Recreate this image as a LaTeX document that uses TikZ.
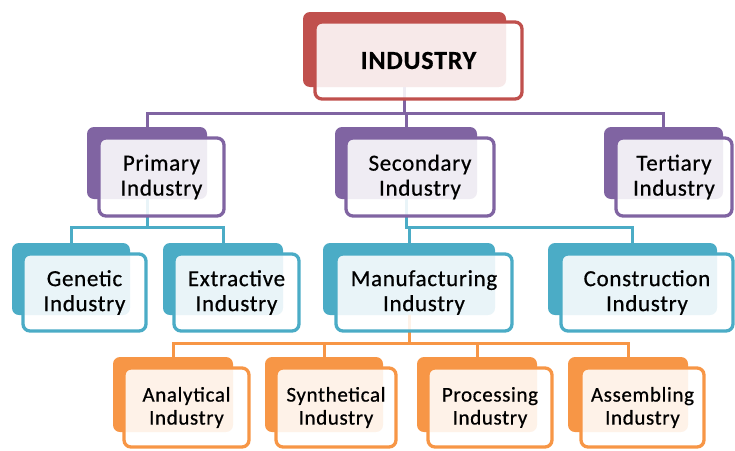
\documentclass[tikz,border=0pt]{standalone}
\usepackage{fontspec}
\setmainfont[LetterSpace=3,FakeBold=0.6]{Carlito}
\definecolor{cred}{HTML}{C0504D}
\definecolor{cpur}{HTML}{8064A2}
\definecolor{cteal}{HTML}{4BACC6}
\definecolor{corg}{HTML}{F79646}
\tikzset{
  backbox/.style={fill=#1, draw=none, rounded corners=7pt, inner sep=0pt, outer sep=0pt},
  frontbox/.style={draw=#1, line width=3.3pt, fill=white, fill opacity=0.88, text opacity=1,
    rounded corners=7pt, align=center, inner sep=0pt, text=black},
  link/.style={draw=#1, line width=3pt},
  big/.style={font=\fontsize{23}{25}\selectfont},
  small/.style={font=\fontsize{21}{23}\selectfont},
  top/.style={font=\bfseries\fontsize{26}{28}\selectfont}
}
\begin{document}
\begin{tikzpicture}[x=1pt,y=-1pt]
\useasboundingbox (0,0) rectangle (735,450);
% back boxes
\node[backbox=cred, minimum width=203pt, minimum height=75pt] (indB) at (404.5,49.5) {};
\node[backbox=cpur, minimum width=120pt, minimum height=72pt] (priB) at (147,163) {};
\node[backbox=cpur, minimum width=142pt, minimum height=72pt] (secB) at (406,163) {};
\node[backbox=cpur, minimum width=119pt, minimum height=72pt] (terB) at (663.5,163) {};
\node[backbox=cteal, minimum width=118pt, minimum height=72pt] (genB) at (71,279) {};
\node[backbox=cteal, minimum width=120pt, minimum height=72pt] (extB) at (223,279) {};
\node[backbox=cteal, minimum width=172pt, minimum height=72pt] (manB) at (409,279) {};
\node[backbox=cteal, minimum width=169pt, minimum height=72pt] (conB) at (632.5,279) {};
\node[backbox=corg, minimum width=120pt, minimum height=75pt] (anaB) at (173,394.5) {};
\node[backbox=corg, minimum width=118pt, minimum height=75pt] (synB) at (324,394.5) {};
\node[backbox=corg, minimum width=120pt, minimum height=75pt] (proB) at (477,394.5) {};
\node[backbox=corg, minimum width=120pt, minimum height=75pt] (assB) at (628,394.5) {};
% bus levels
\coordinate (bus1) at (0,113);
\coordinate (bus2) at (0,227);
\coordinate (bus3) at (0,343);
% connectors
\draw[link=cpur] (indB.south) |- (priB.north |- bus1) -- (priB.north);
\draw[link=cpur] (indB.south) |- (secB.north |- bus1) -- (secB.north);
\draw[link=cpur] (indB.south) |- (terB.north |- bus1) -- (terB.north);
\draw[link=cteal] (priB.south) |- (genB.north |- bus2) -- (genB.north);
\draw[link=cteal] (priB.south) |- (extB.north |- bus2) -- (extB.north);
\draw[link=cteal] (secB.south) |- (manB.north |- bus2) -- (manB.north);
\draw[link=cteal] (secB.south) |- (conB.north |- bus2) -- (conB.north);
\draw[link=corg] (manB.south) |- (anaB.north |- bus3) -- (anaB.north);
\draw[link=corg] (manB.south) |- (synB.north |- bus3) -- (synB.north);
\draw[link=corg] (manB.south) |- (proB.north |- bus3) -- (proB.north);
\draw[link=corg] (manB.south) |- (assB.north |- bus3) -- (assB.north);
% front boxes
\node[frontbox=cred, top, minimum width=207pt, minimum height=77pt] (ind) at (418.5,60.5) {INDUSTRY};
\node[frontbox=cpur, big, minimum width=125pt, minimum height=78pt] (pri) at (161.5,177) {Primary\\Industry};
\node[frontbox=cpur, big, minimum width=148pt, minimum height=78pt] (sec) at (420,177) {Secondary\\Industry};
\node[frontbox=cpur, big, minimum width=116pt, minimum height=78pt] (ter) at (674,177) {Tertiary\\Industry};
\node[frontbox=cteal, big, minimum width=123pt, minimum height=77pt] (gen) at (84.5,292.5) {Genetic\\Industry};
\node[frontbox=cteal, big, minimum width=125pt, minimum height=77pt] (ext) at (236.5,292.5) {Extractive\\Industry};
\node[frontbox=cteal, big, minimum width=176pt, minimum height=77pt] (man) at (424,292.5) {Manufacturing\\Industry};
\node[frontbox=cteal, big, minimum width=172pt, minimum height=77pt] (con) at (647,292.5) {Construction\\Industry};
\node[frontbox=corg, small, minimum width=125pt, minimum height=79pt] (ana) at (186.5,407.5) {Analytical\\Industry};
\node[frontbox=corg, small, minimum width=120pt, minimum height=79pt] (syn) at (336,407.5) {Synthetical\\Industry};
\node[frontbox=corg, small, minimum width=124pt, minimum height=79pt] (pro) at (490,407.5) {Processing\\Industry};
\node[frontbox=corg, small, minimum width=123pt, minimum height=79pt] (ass) at (642.5,407.5) {Assembling\\Industry};
\end{tikzpicture}
\end{document}
